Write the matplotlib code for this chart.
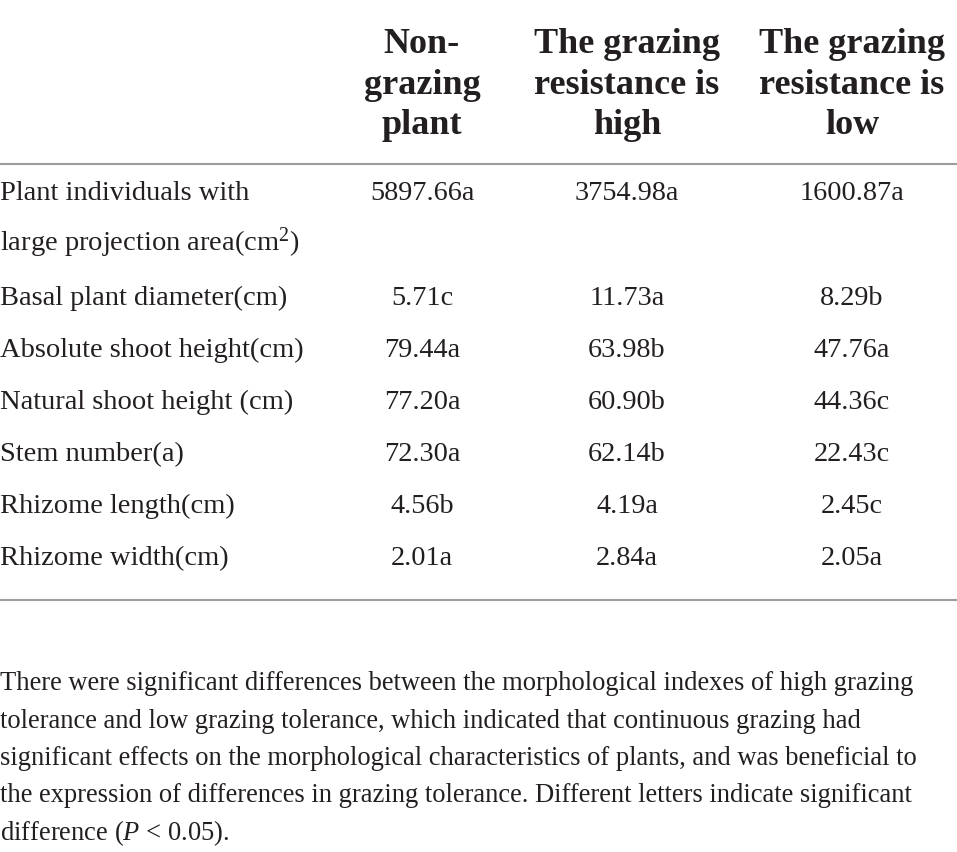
import matplotlib
matplotlib.use("Agg")
import matplotlib.pyplot as plt

plt.rcParams['font.family'] = ['Liberation Serif', 'DejaVu Serif']
plt.rcParams['mathtext.fontset'] = 'custom'
plt.rcParams['mathtext.rm'] = 'Liberation Serif'
plt.rcParams['mathtext.it'] = 'Liberation Serif:italic'

# table content
col_headers = ["Non-\ngrazing\nplant",
               "The grazing\nresistance is\nhigh",
               "The grazing\nresistance is\nlow"]
row_labels = ["Plant individuals with\nlarge projection area(cm$^2$)",
              "Basal plant diameter(cm)",
              "Absolute shoot height(cm)",
              "Natural shoot height (cm)",
              "Stem number(a)",
              "Rhizome length(cm)",
              "Rhizome width(cm)"]
non_grazing = ["5897.66a", "5.71c", "79.44a", "77.20a", "72.30a", "4.56b", "2.01a"]
high_resist = ["3754.98a", "11.73a", "63.98b", "60.90b", "62.14b", "4.19a", "2.84a"]
low_resist = ["1600.87a", "8.29b", "47.76a", "44.36c", "22.43c", "2.45c", "2.05a"]
footnote = ["There were significant differences between the morphological indexes of high grazing",
            "tolerance and low grazing tolerance, which indicated that continuous grazing had",
            "significant effects on the morphological characteristics of plants, and was beneficial to",
            "the expression of differences in grazing tolerance. Different letters indicate significant",
            "difference ($\\mathit{P}$ < 0.05)."]

W, H = 957, 853
fig = plt.figure(figsize=(W / 100, H / 100), dpi=100)
ax = fig.add_axes([0, 0, 1, 1])
ax.set_xlim(0, W)
ax.set_ylim(H, 0)
ax.axis('off')

txt = '#231f20'
rule = '#9d9d9d'
col_x = [422, 627, 852]

# header
for x, h in zip(col_x, col_headers):
    for i, line in enumerate(h.split("\n")):
        ax.text(x, 53 + i * 40.5, line, ha='center', va='baseline',
                fontsize=26, fontweight='bold', color=txt)

ax.axhline(165, color=rule, lw=1.5)
ax.axhline(601, color=rule, lw=1.5)

# body rows
base = [200, 305, 357, 409, 461, 513, 565]
for k, lab in enumerate(row_labels):
    for i, line in enumerate(lab.split("\n")):
        ax.text(0, base[k] + i * 51, line, ha='left', va='baseline',
                fontsize=20.5, color=txt)
    for x, v in zip(col_x, [non_grazing[k], high_resist[k], low_resist[k]]):
        ax.text(x, base[k], v, ha='center', va='baseline', fontsize=20.3, color=txt)

# footnote
for i, line in enumerate(footnote):
    ax.text(0, 690 + i * 37.5, line, ha='left', va='baseline', fontsize=19.1, color=txt)

fig.savefig("out.png", dpi=100)
